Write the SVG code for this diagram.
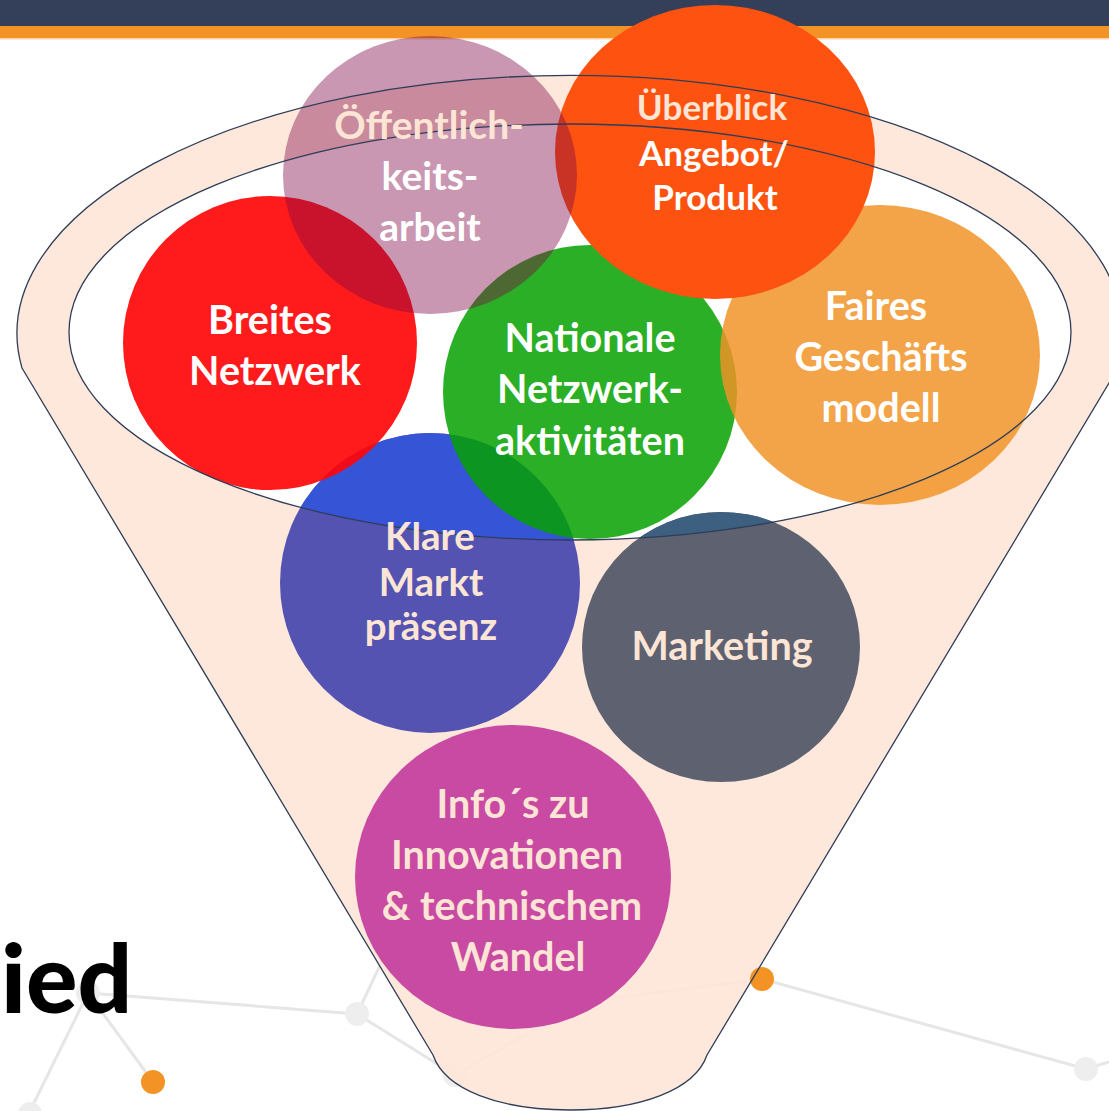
<svg xmlns="http://www.w3.org/2000/svg" width="1109" height="1111" viewBox="0 0 1109 1111">
<defs>
<clipPath id="inner"><ellipse cx="570" cy="332" rx="501" ry="208"/></clipPath>
<style>
.t{font-family:Lato,"Liberation Sans",sans-serif;font-weight:700;text-anchor:middle;}
.w{fill:#ffffff;}
.p{fill:#fde5d6;}
.net{stroke:#e6e6e6;stroke-width:3;fill:none;}
.gd{fill:#eeeeee;}
.od{fill:#f39325;}
.ol{fill:none;stroke:#2f3d58;stroke-width:1.3;}
</style>
</defs>
<rect x="0" y="0" width="1109" height="1111" fill="#ffffff"/>
<g id="background-network">
<line class="net" x1="88" y1="993" x2="357" y2="1014"/>
<line class="net" x1="88" y1="993" x2="153" y2="1082"/>
<line class="net" x1="88" y1="993" x2="30" y2="1111"/>
<line class="net" x1="357" y1="1014" x2="455" y2="1075"/>
<line class="net" x1="357" y1="1014" x2="430" y2="860"/>
<line class="net" x1="455" y1="1075" x2="583" y2="1002"/>
<line class="net" x1="583" y1="1002" x2="762" y2="979"/>
<line class="net" x1="762" y1="979" x2="1086" y2="1069"/>
<line class="net" x1="1086" y1="1069" x2="1109" y2="1062"/>
<circle class="gd" cx="88" cy="993" r="12"/>
<circle class="gd" cx="357" cy="1014" r="12"/>
<circle class="gd" cx="30" cy="1114" r="12"/>
<circle class="gd" cx="455" cy="1075" r="12"/>
<circle class="gd" cx="583" cy="1002" r="12"/>
<circle class="gd" cx="1086" cy="1069" r="12"/>
<circle class="od" cx="153" cy="1082" r="12"/>
</g>
<g id="header">
<rect x="0" y="0" width="1109" height="26" fill="#34405a"/>
<rect x="0" y="26" width="1109" height="12" fill="#f39325"/>
<rect x="0" y="38" width="1109" height="1.5" fill="#fbd3a8"/>
</g>
<g id="funnel">
<path d="M22,368 A553,258 0 1 1 1118,368 L707,1055 C695,1090 640,1110 570,1110 C500,1110 445,1090 433,1055 Z" fill="#fde6d7" fill-opacity="0.9"/>
<ellipse cx="570" cy="332" rx="501" ry="208" fill="#ffffff"/>
</g>
<circle class="od" cx="762" cy="979" r="12"/>
<g id="node-klare">
<circle cx="430" cy="583" r="150" fill="#5453b1"/>
<circle cx="430" cy="583" r="150" fill="#3555d6" clip-path="url(#inner)"/>
</g>
<g id="node-marketing">
<ellipse cx="721" cy="647" rx="139" ry="135" fill="#5d6170"/>
<ellipse cx="721" cy="647" rx="139" ry="135" fill="#3d6080" clip-path="url(#inner)"/>
</g>
<g id="node-info">
<ellipse cx="513" cy="877" rx="158" ry="152" fill="#c84aa3"/>
</g>
<g id="node-breites">
<circle cx="270" cy="343" r="147" fill="rgb(255,7,8)" fill-opacity="0.92"/>
</g>
<g id="node-nationale">
<circle cx="590" cy="392" r="147" fill="rgb(5,161,0)" fill-opacity="0.85"/>
</g>
<g id="node-faires">
<ellipse cx="880" cy="355" rx="160" ry="150" fill="rgb(241,147,38)" fill-opacity="0.84"/>
</g>
<g id="node-ueberblick">
<ellipse cx="715" cy="152" rx="160" ry="147" fill="#fe5310"/>
</g>
<g id="node-oeffentlich">
<ellipse cx="430" cy="175" rx="147" ry="139" fill="rgb(126,7,69)" fill-opacity="0.42"/>
</g>
<g id="funnel-outlines">
<path class="ol" d="M22,368 A553,258 0 1 1 1118,368 L707,1055 C695,1090 640,1110 570,1110 C500,1110 445,1090 433,1055 Z"/>
<ellipse class="ol" cx="570" cy="332" rx="501" ry="208"/>
</g>
<g id="labels">
<text class="t p" font-size="39" x="429" y="139">Öffentlich-</text>
<text class="t w" font-size="39" x="430" y="190">keits-</text>
<text class="t w" font-size="39" x="430" y="241">arbeit</text>
<text class="t p" font-size="35" x="712" y="120">Überblick</text>
<text class="t w" font-size="35" x="714" y="166">Angebot/</text>
<text class="t w" font-size="35" x="715" y="210">Produkt</text>
<text class="t w" font-size="39.5" x="270" y="334">Breites</text>
<text class="t w" font-size="39.5" x="275" y="385">Netzwerk</text>
<text class="t w" font-size="39.5" x="590" y="352">Nationale</text>
<text class="t w" font-size="39.5" x="590" y="403">Netzwerk-</text>
<text class="t w" font-size="39.5" x="590" y="455">aktivitäten</text>
<text class="t w" font-size="39.5" x="876" y="320">Faires</text>
<text class="t w" font-size="39.5" x="881" y="371">Geschäfts</text>
<text class="t w" font-size="39.5" x="881" y="422">modell</text>
<text class="t p" font-size="38.5" x="430" y="550">Klare</text>
<text class="t p" font-size="38.5" x="431" y="596">Markt</text>
<text class="t p" font-size="38.5" x="431" y="640">präsenz</text>
<text class="t p" font-size="39.5" x="722" y="660">Marketing</text>
<text class="t p" font-size="39.5" x="513" y="818">Info´s zu</text>
<text class="t p" font-size="39.5" x="507" y="869">Innovationen</text>
<text class="t p" font-size="39.5" x="512" y="920">&amp; technischem</text>
<text class="t p" font-size="39.5" x="518" y="971">Wandel</text>
</g>
<text font-family="Lato,'Liberation Sans',sans-serif" font-weight="900" font-size="96" x="1" y="1013" fill="#000000">ied</text>
</svg>
